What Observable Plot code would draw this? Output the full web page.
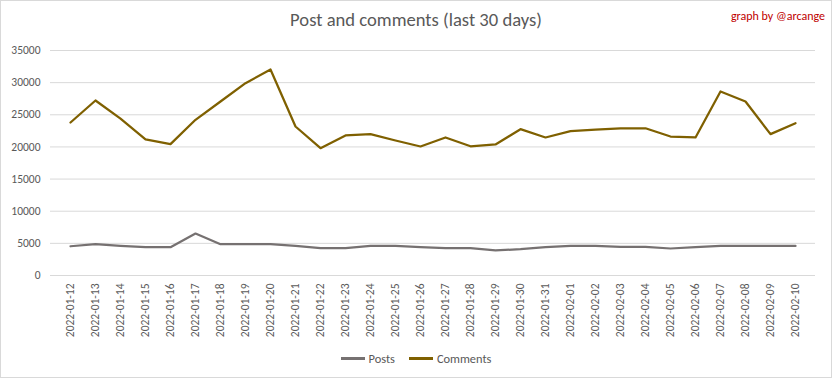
<!DOCTYPE html>
<html>
<head>
<meta charset="utf-8">
<script src="https://cdn.jsdelivr.net/npm/d3@7"></script>
<script src="https://cdn.jsdelivr.net/npm/@observablehq/plot@0.6"></script>
<style>
  body { margin: 0; background: #fff; font-family: "Carlito", "Liberation Sans", sans-serif; }
  #wrap { position: relative; width: 830px; height: 376px; border: 1px solid #d9d9d9; background: #fff; overflow: hidden; }
  #title { position: absolute; top: 7px; left: 0; width: 830px; text-align: center; font-size: 18.6px; color: #595959; }
  #credit { position: absolute; top: 8px; right: 6px; font-size: 12px; color: #c00000; }
  #chart { position: absolute; top: 40px; left: 0; }
  #legend { position: absolute; top: 350px; left: 0; width: 830px; display: flex; justify-content: center; gap: 14px; font-size: 12.4px; color: #595959; }
  .item { display: flex; align-items: center; gap: 4px; }
  .sw { width: 24px; height: 2.5px; display: inline-block; }
</style>
</head>
<body>
<div id="wrap">
  <div id="title">Post and comments (last 30 days)</div>
  <div id="credit">graph by @arcange</div>
  <div id="chart"></div>
  <div id="legend"></div>
</div>
<script>
const dates = ["2022-01-12","2022-01-13","2022-01-14","2022-01-15","2022-01-16","2022-01-17","2022-01-18","2022-01-19","2022-01-20","2022-01-21","2022-01-22","2022-01-23","2022-01-24","2022-01-25","2022-01-26","2022-01-27","2022-01-28","2022-01-29","2022-01-30","2022-01-31","2022-02-01","2022-02-02","2022-02-03","2022-02-04","2022-02-05","2022-02-06","2022-02-07","2022-02-08","2022-02-09","2022-02-10"];
const posts = [4550,4870,4600,4400,4400,6530,4870,4870,4870,4600,4250,4250,4620,4600,4400,4250,4250,3900,4100,4400,4600,4600,4450,4450,4200,4400,4600,4600,4600,4600];
const comments = [23800,27220,24400,21160,20430,24220,27070,29920,32040,23180,19800,21780,21990,21000,20070,21470,20100,20380,22760,21470,22450,22710,22870,22900,21620,21470,28620,27070,21990,23690];
const seriesNames = ["Posts","Comments"];
const seriesColors = ["#767171","#7f6000"];
const yTicks = [0,5000,10000,15000,20000,25000,30000,35000];

const rows = [];
dates.forEach((d,i) => {
  rows.push({date:d, series:"Posts", value:posts[i]});
  rows.push({date:d, series:"Comments", value:comments[i]});
});

const chart = Plot.plot({
  width: 830,
  height: 305,
  marginLeft: 49,
  marginRight: 16,
  marginTop: 9,
  marginBottom: 71,
  style: {fontFamily: "Carlito, 'Liberation Sans', sans-serif", fontSize: "11.5px", color: "#595959", background: "transparent"},
  x: {type: "point", domain: dates, padding: 0.5, label: null},
  y: {domain: [0,35000], label: null},
  color: {domain: seriesNames, range: seriesColors},
  marks: [
    Plot.ruleY(yTicks, {stroke: "#d9d9d9", strokeWidth: 1}),
    Plot.axisY({ticks: yTicks, tickSize: 0, tickPadding: 10, tickFormat: d => String(d), label: null}),
    Plot.axisX({tickSize: 0, tickPadding: 8, tickRotate: -90, label: null}),
    Plot.line(rows, {x: "date", y: "value", z: "series", stroke: "series", strokeWidth: 2.25, strokeLinejoin: "round", strokeLinecap: "round"})
  ]
});
document.getElementById("chart").appendChild(chart);

const legend = document.getElementById("legend");
seriesNames.forEach((n,i) => {
  const it = document.createElement("div");
  it.className = "item";
  const sw = document.createElement("span");
  sw.className = "sw";
  sw.style.background = seriesColors[i];
  const t = document.createElement("span");
  t.textContent = n;
  it.appendChild(sw); it.appendChild(t);
  legend.appendChild(it);
});
</script>
</body>
</html>
